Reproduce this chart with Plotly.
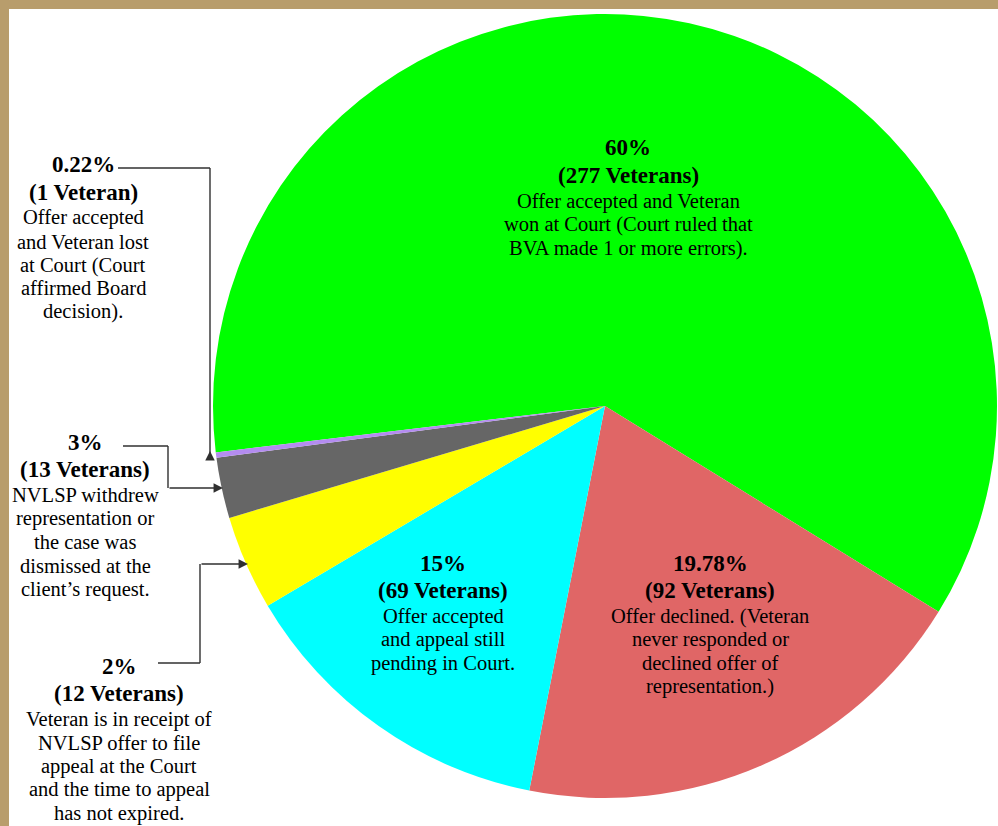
import plotly.graph_objects as go

# ---------------- data ----------------
categories = [
    "Offer accepted and Veteran won at Court",
    "Offer declined",
    "Offer accepted and appeal still pending in Court",
    "Veteran is in receipt of NVLSP offer to file appeal",
    "NVLSP withdrew representation or case dismissed",
    "Offer accepted and Veteran lost at Court",
]
# slice sizes as drawn in the picture (percent of the circle)
slice_values = [60.7, 19.3, 13.4, 3.9, 2.5, 0.22]
slice_colors = ["#00ff00", "#e06666", "#00ffff", "#ffff00", "#666666", "#b48cf0"]

label_green = ["60%", "(277 Veterans)", "Offer accepted and Veteran",
               "won at Court (Court ruled that", "BVA made 1 or more errors)."]
label_red = ["19.78%", "(92 Veterans)", "Offer declined. (Veteran",
             "never responded or", "declined offer of", "representation.)"]
label_cyan = ["15%", "(69 Veterans)", "Offer accepted", "and appeal still",
              "pending in Court."]
label_purple = ["0.22%", "(1 Veteran)", "Offer accepted", "and Veteran lost",
                "at Court (Court", "affirmed Board", "decision)."]
label_gray = ["3%", "(13 Veterans)", "NVLSP withdrew", "representation or",
              "the case was", "dismissed at the", "client\u2019s request."]
label_yellow = ["2%", "(12 Veterans)", "Veteran is in receipt of",
                "NVLSP offer to file", "appeal at the Court",
                "and the time to appeal", "has not expired."]

# ---------------- layout helpers ----------------
W, H = 998, 826
def px(x):
    return x / W
def py(y):
    return 1 - y / H

FONT = "Liberation Serif, Times New Roman, serif"
BOLD_SIZE = 23
REG_SIZE = 20.5

fig = go.Figure()
fig.add_trace(go.Pie(
    labels=categories,
    values=slice_values,
    sort=False,
    direction="clockwise",
    rotation=263.2,
    marker=dict(colors=slice_colors, line=dict(width=0)),
    textinfo="none",
    hoverinfo="label+percent",
    showlegend=False,
    domain=dict(x=[px(213), px(997)], y=[py(798), py(14)]),
))

annotations = []
def add_label(lines, cx, y_first, gap_bold=27, gap_reg=23.5):
    y = y_first
    for i, t in enumerate(lines):
        bold = i < 2
        annotations.append(dict(
            x=px(cx), y=py(y), xref="paper", yref="paper",
            text=("<b>%s</b>" % t) if bold else t,
            showarrow=False, xanchor="center", yanchor="middle",
            font=dict(family=FONT, size=BOLD_SIZE if bold else REG_SIZE, color="#000000"),
        ))
        if i == 0:
            y += gap_bold
        elif i == 1:
            y += 26
        else:
            y += gap_reg

add_label(label_green, 628, 148)
add_label(label_red, 710, 563)
add_label(label_cyan, 443, 563)
add_label(label_purple, 83, 165)
add_label(label_gray, 85, 442)
add_label(label_yellow, 119, 666)

# connector lines
LINE_C = "#303030"
LW = 1.4
segments = [
    ((118, 168), (210, 168)), ((210, 168), (210, 460)),
    ((123, 446), (168, 446)), ((168, 446), (168, 488)),
    ((158, 663), (200, 663)), ((200, 663), (200, 564)),
]
shapes = []
for (x0, y0), (x1, y1) in segments:
    shapes.append(dict(type="line", xref="paper", yref="paper",
                       x0=px(x0), y0=py(y0), x1=px(x1), y1=py(y1),
                       line=dict(color=LINE_C, width=LW)))

# arrows (head position, tail offset in px)
arrows = [((210, 451), (0, 10)), ((223, 488), (-55, 0)), ((248, 564), (-48, 0))]
for (hx, hy), (ax, ay) in arrows:
    annotations.append(dict(
        x=px(hx), y=py(hy), xref="paper", yref="paper", text="",
        showarrow=True, ax=ax, ay=ay, arrowhead=2, arrowsize=1.35,
        arrowwidth=LW, arrowcolor=LINE_C, standoff=0, startstandoff=0,
    ))

# tan frame (top and left)
FRAME = "#b89d6c"
shapes.append(dict(type="rect", xref="paper", yref="paper", x0=0, x1=1,
                   y0=py(9), y1=1, fillcolor=FRAME, line=dict(width=0), layer="above"))
shapes.append(dict(type="rect", xref="paper", yref="paper", x0=0, x1=px(9),
                   y0=0, y1=1, fillcolor=FRAME, line=dict(width=0), layer="above"))

fig.update_layout(
    width=W, height=H,
    margin=dict(l=0, r=0, t=0, b=0),
    paper_bgcolor="#ffffff",
    plot_bgcolor="#ffffff",
    annotations=annotations,
    shapes=shapes,
)

fig.write_html(
    "out.html",
    config={"displayModeBar": False},
    post_script="document.body.style.margin='0';document.body.style.overflow='hidden';",
)
